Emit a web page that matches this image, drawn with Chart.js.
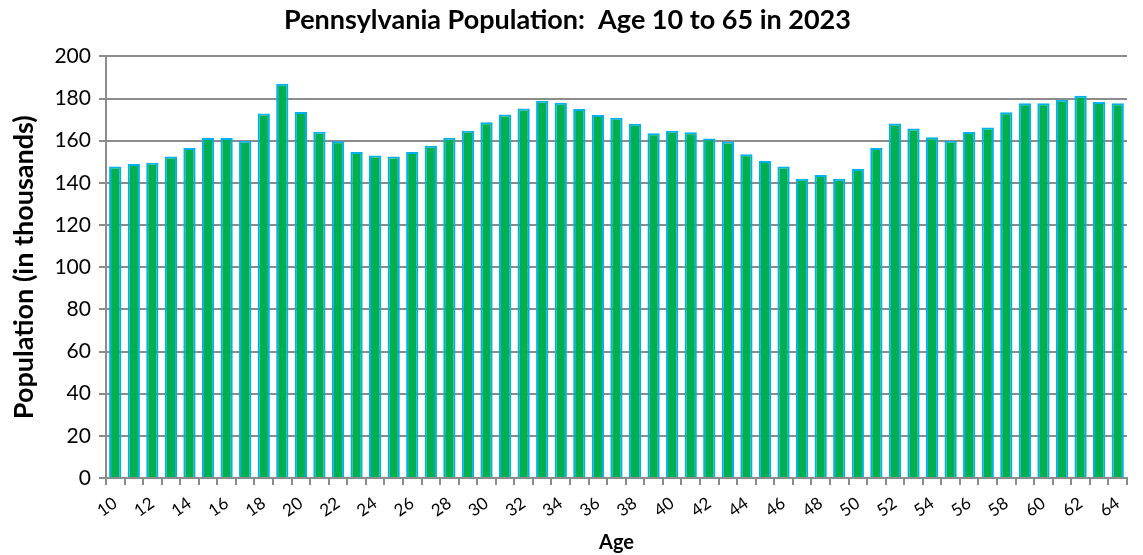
<!DOCTYPE html>
<html>
<head>
<meta charset="utf-8">
<script src="https://cdn.jsdelivr.net/npm/chart.js@4/dist/chart.umd.min.js"></script>
<style>
  html, body { margin: 0; padding: 0; background: #fff; }
  #canvas { display: block; }
</style>
</head>
<body>
<canvas id="canvas" width="1143" height="555"></canvas>
<script>
// ages 10..64 and population in thousands
const ages = [10, 11, 12, 13, 14, 15, 16, 17, 18, 19,
              20, 21, 22, 23, 24, 25, 26, 27, 28, 29,
              30, 31, 32, 33, 34, 35, 36, 37, 38, 39,
              40, 41, 42, 43, 44, 45, 46, 47, 48, 49,
              50, 51, 52, 53, 54, 55, 56, 57, 58, 59,
              60, 61, 62, 63, 64];
const population = [147.8, 148.9, 149.5, 152.5, 156.6, 161.3, 161.3, 160.0, 172.9, 187.0,
                    173.6, 164.2, 159.7, 154.7, 153.0, 152.5, 154.7, 157.6, 161.4, 164.7,
                    168.8, 172.4, 175.3, 179.0, 178.0, 175.0, 172.2, 170.9, 168.1, 163.5,
                    164.7, 164.0, 161.0, 159.6, 153.6, 150.4, 147.8, 142.0, 143.7, 142.0,
                    146.6, 156.5, 168.2, 165.8, 161.7, 160.0, 164.1, 166.3, 173.5, 177.8,
                    177.8, 179.4, 181.3, 178.4, 177.8];
const yTicks = [0, 20, 40, 60, 80, 100, 120, 140, 160, 180, 200];

const fontFamily = "Lato, 'Open Sans', sans-serif";
const gridGray = '#8c8c8c';

const canvasCTX = document.getElementById('canvas').getContext('2d');

const popChart = new Chart(canvasCTX, {
    type: 'bar',
    data: {
        labels: ages,
        datasets: [{
            label: 'Population',
            data: population,
            backgroundColor: '#00b050',
            borderColor: '#00b0f0',
            borderWidth: 2,
            barPercentage: 0.66,
            categoryPercentage: 1.0
        }]
    },
    options: {
        responsive: false,
        animation: false,
        plugins: {
            title: {
                display: true,
                text: 'Pennsylvania Population:  Age 10 to 65 in 2023',
                color: '#000',
                font: { family: fontFamily, size: 27, weight: 'bold' },
                padding: { top: 4, bottom: 20 }
            },
            legend: { display: false },
            tooltip: { enabled: false }
        },
        layout: {
            padding: { top: 0, bottom: 0, left: 8, right: 16 }
        },
        scales: {
            x: {
                offset: true,
                grid: {
                    offset: true,
                    drawOnChartArea: false,
                    drawTicks: true,
                    tickLength: 7,
                    color: gridGray,
                    lineWidth: 2
                },
                border: { display: true, color: gridGray, width: 2 },
                ticks: {
                    autoSkip: false,
                    minRotation: 35,
                    maxRotation: 35,
                    color: '#000',
                    padding: 8,
                    font: { family: fontFamily, size: 17 },
                    callback: function (value, index) {
                        return index % 2 === 0 ? ages[index] : '';
                    }
                },
                title: {
                    display: true,
                    text: 'Age',
                    color: '#000',
                    font: { family: fontFamily, size: 20, weight: 'bold' },
                    padding: { top: 2, bottom: 0 }
                }
            },
            y: {
                min: 0,
                max: 200,
                afterBuildTicks: function (axis) {
                    axis.ticks = yTicks.map(v => ({ value: v }));
                },
                grid: {
                    color: gridGray,
                    lineWidth: 2,
                    drawTicks: true,
                    tickLength: 7
                },
                border: { display: true, color: gridGray, width: 2 },
                ticks: {
                    color: '#000',
                    padding: 8,
                    font: { family: fontFamily, size: 21 }
                },
                title: {
                    display: true,
                    text: 'Population (in thousands)',
                    color: '#000',
                    font: { family: fontFamily, size: 27, weight: 'bold' },
                    padding: { top: 0, bottom: 6 }
                }
            }
        }
    }
});
</script>
</body>
</html>
